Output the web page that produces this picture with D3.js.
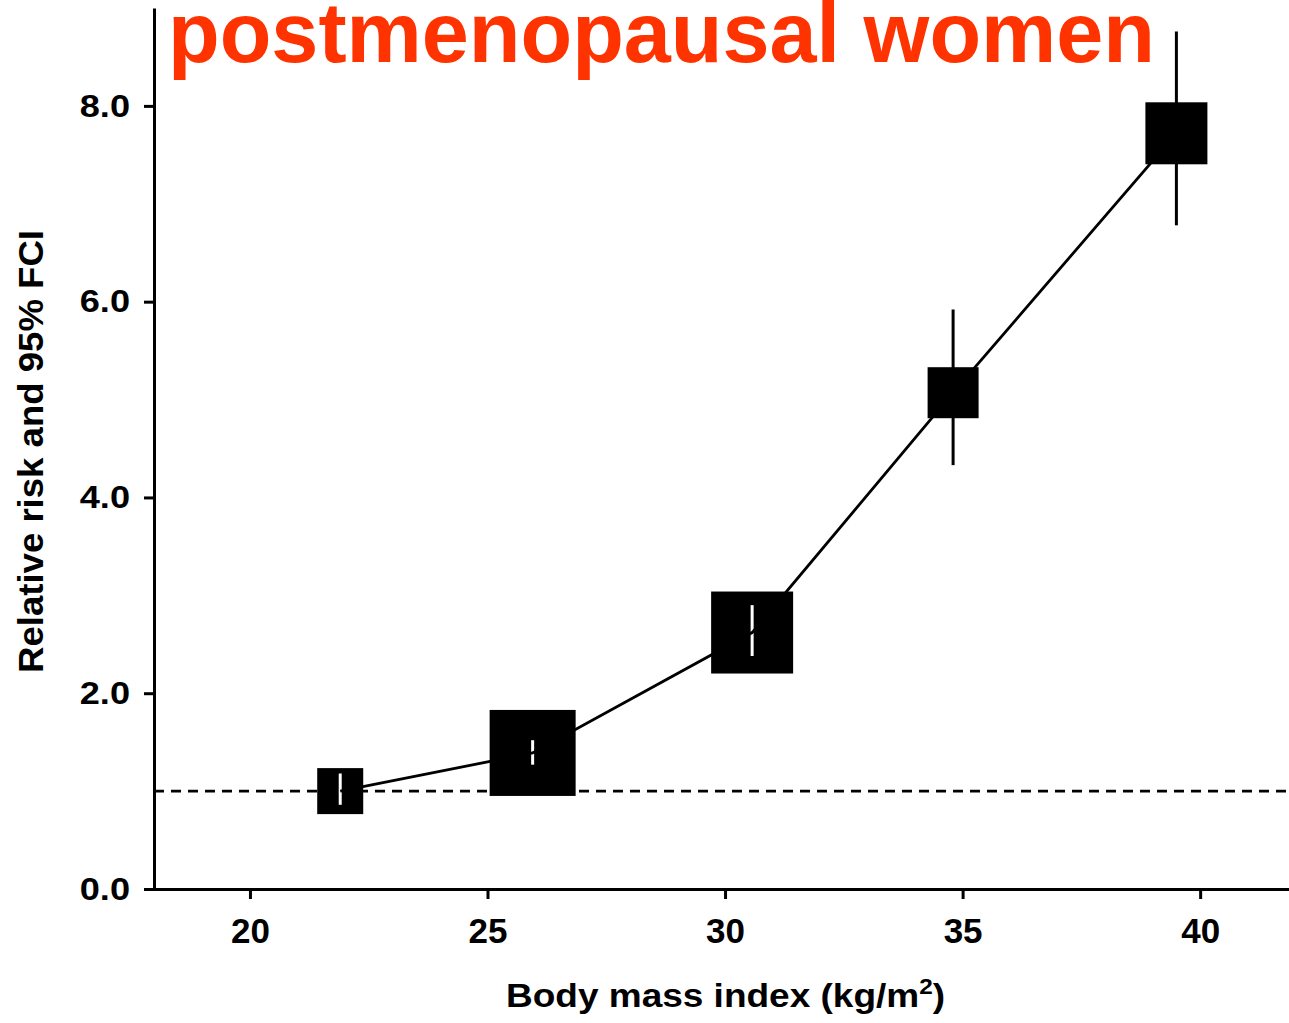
<!DOCTYPE html>
<html>
<head>
<meta charset="utf-8">
<script src="https://cdn.jsdelivr.net/npm/d3@7"></script>
<style>
  html, body { margin: 0; padding: 0; background: #fff; }
  svg { display: block; }
  text { font-family: "Liberation Sans", Arial, Helvetica, sans-serif; font-weight: bold; }
</style>
</head>
<body>
<svg id="chart" width="1289" height="1023"></svg>
<script>
// Body mass index categories (kg/m2) and relative risk estimates
const bmi      = [21.9, 25.95, 30.57, 34.8, 39.5];
const relRisk  = [1.0, 1.39, 2.62, 5.07, 7.72];
const ciLow    = [0.86, 1.27, 2.38, 4.33, 6.78];
const ciHigh   = [1.18, 1.52, 2.90, 5.92, 8.76];
// relative statistical weight of each estimate (drives box size)
const weights  = [0.46, 0.86, 0.82, 0.51, 0.62];

const xTicks = [20, 25, 30, 35, 40];
const yTicks = [0, 2, 4, 6, 8];
const referenceRisk = 1.0;

const titleText = "postmenopausal women";
const xTitle = "Body mass index (kg/m";
const yTitle = "Relative risk and 95% FCI";

const data = bmi.map((b, i) => ({
  bmi: b, rr: relRisk[i], lo: ciLow[i], hi: ciHigh[i], w: weights[i]
}));

const svg = d3.select("#chart");

const x = d3.scaleLinear().domain([17.77, 41.87]).range([144, 1289]);
const y = d3.scaleLinear().domain([0, 9]).range([889, 8]);
const box = d3.scaleLinear().domain([0, 1]).range([0, 100]);
const yAxisX = x(17.77) + 10;

// horizontal stretch helper for text elements
function stretch(sel, factor) {
  sel.each(function () {
    const len = this.getComputedTextLength();
    this.setAttribute("textLength", len * factor);
    this.setAttribute("lengthAdjust", "spacingAndGlyphs");
  });
}

// reference line at RR = 1
svg.append("line")
  .attr("x1", yAxisX).attr("x2", 1289)
  .attr("y1", y(referenceRisk)).attr("y2", y(referenceRisk))
  .attr("stroke", "#000").attr("stroke-width", 2.6)
  .attr("stroke-dasharray", "10,7");

// confidence intervals extending beyond their box
svg.append("g").selectAll("line")
  .data(data.filter(d => y(d.hi) < y(d.rr) - box(d.w) / 2))
  .join("line")
  .attr("x1", d => x(d.bmi)).attr("x2", d => x(d.bmi))
  .attr("y1", d => y(d.hi)).attr("y2", d => y(d.lo))
  .attr("stroke", "#000").attr("stroke-width", 3);

// boxes
svg.append("g").selectAll("rect")
  .data(data)
  .join("rect")
  .attr("x", d => x(d.bmi) - box(d.w) / 2)
  .attr("y", d => y(d.rr) - box(d.w) / 2)
  .attr("width", d => box(d.w))
  .attr("height", d => box(d.w))
  .attr("fill", "#000");

// intervals contained in their box are shown in white
svg.append("g").selectAll("line")
  .data(data.filter(d => y(d.hi) >= y(d.rr) - box(d.w) / 2))
  .join("line")
  .attr("x1", d => x(d.bmi)).attr("x2", d => x(d.bmi))
  .attr("y1", d => y(d.hi)).attr("y2", d => y(d.lo))
  .attr("stroke", "#fff").attr("stroke-width", 3);

// connecting line through the estimates
svg.append("path")
  .datum(data)
  .attr("fill", "none")
  .attr("stroke", "#000")
  .attr("stroke-width", 2.8)
  .attr("d", d3.line().x(d => x(d.bmi)).y(d => y(d.rr)));

// x axis
const gx = svg.append("g")
  .attr("transform", `translate(0,${y(0)})`)
  .call(d3.axisBottom(x).tickValues(xTicks).tickFormat(d3.format("d"))
    .tickSize(10).tickSizeOuter(0).tickPadding(19));
gx.select(".domain").attr("stroke-width", 3);
gx.selectAll(".tick line").attr("stroke-width", 3);
gx.selectAll(".tick text").attr("font-size", 35).attr("fill", "#000")
  .attr("font-family", "Liberation Sans, Arial, sans-serif").attr("font-weight", "bold");

// y axis
const gy = svg.append("g")
  .attr("transform", `translate(${yAxisX},0)`)
  .call(d3.axisLeft(y).tickValues(yTicks).tickFormat(d3.format(".1f"))
    .tickSize(10).tickSizeOuter(0).tickPadding(14));
gy.select(".domain").attr("stroke-width", 3);
gy.selectAll(".tick line").attr("stroke-width", 3);
gy.selectAll(".tick text").attr("font-size", 32).attr("fill", "#000")
  .attr("font-family", "Liberation Sans, Arial, sans-serif").attr("font-weight", "bold");
stretch(gy.selectAll(".tick text"), 1.13);

// axis titles
const xt = svg.append("text")
  .attr("x", 725.5).attr("y", 1007)
  .attr("text-anchor", "middle")
  .attr("font-size", 33.5)
  .attr("textLength", 439).attr("lengthAdjust", "spacingAndGlyphs");
xt.append("tspan").text(xTitle);
xt.append("tspan").attr("font-size", 22).attr("dy", -13).text("2");
xt.append("tspan").attr("dy", 13).text(")");

svg.append("text")
  .attr("transform", "translate(43,451.5) rotate(-90)")
  .attr("text-anchor", "middle")
  .attr("font-size", 35)
  .attr("textLength", 443).attr("lengthAdjust", "spacingAndGlyphs")
  .text(yTitle);

// chart title
svg.append("text")
  .attr("x", 168).attr("y", 62)
  .attr("font-size", 85)
  .attr("fill", "#ff3300")
  .attr("textLength", 987).attr("lengthAdjust", "spacingAndGlyphs")
  .text(titleText);
</script>
</body>
</html>
